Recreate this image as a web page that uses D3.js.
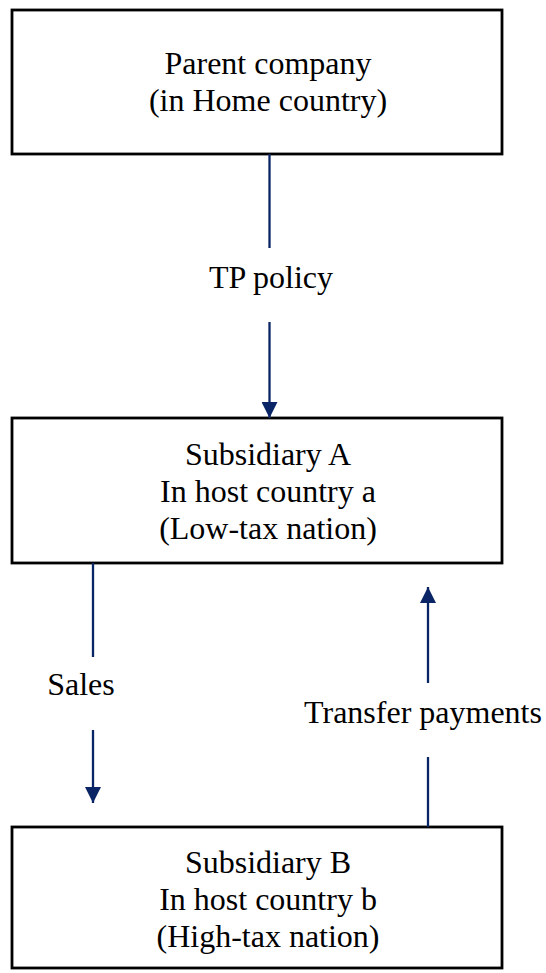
<!DOCTYPE html>
<html><head><meta charset="utf-8">
<script src="https://cdn.jsdelivr.net/npm/d3@7"></script>
<style>html,body{margin:0;padding:0;background:#fff;}svg{display:block;}</style>
</head><body>
<script>
// Node labels (lines per box)
const boxIds = ["parent", "subA", "subB"];
const boxLines = [
  ["Parent company", "(in Home country)"],
  ["Subsidiary A", "In host country a", "(Low-tax nation)"],
  ["Subsidiary B", "In host country b", "(High-tax nation)"]
];
// Flows between boxes
const flowLabels = ["TP policy", "Sales", "Transfer payments"];
const flowFrom = ["parent", "subA", "subB"];
const flowTo = ["subA", "subB", "subA"];

const W = 546, H = 973;
const svg = d3.select("body").append("svg").attr("width", W).attr("height", H);
const navy = "#0a2565";
const font = "'Liberation Serif', 'Times New Roman', serif";

// layout
const boxX = 12, boxW = 490;
const boxTop = {parent: 10, subA: 418, subB: 827};
const boxH = {parent: 144, subA: 145, subB: 141};
const firstBase = {parent: 74, subA: 465, subB: 873};
const lineGap = 37;

svg.append("defs").append("marker")
  .attr("id", "ah").attr("viewBox", "0 0 16 16").attr("refX", 16).attr("refY", 8)
  .attr("markerWidth", 16).attr("markerHeight", 16).attr("markerUnits", "userSpaceOnUse")
  .attr("orient", "auto")
  .append("path").attr("d", "M0,0 L16,8 L0,16 Z").attr("fill", navy);

const boxes = svg.selectAll("g.box").data(boxIds).join("g").attr("class", "box");
boxes.append("rect")
  .attr("x", boxX).attr("y", d => boxTop[d]).attr("width", boxW).attr("height", d => boxH[d])
  .attr("fill", "#fff").attr("stroke", "#000").attr("stroke-width", 2.8);
boxes.each(function(d, i) {
  const lines = boxLines[i];
  d3.select(this).selectAll("text").data(lines).join("text")
    .attr("x", 268).attr("y", (t, j) => firstBase[d] + j * lineGap)
    .attr("text-anchor", "middle").attr("font-family", font).attr("font-size", 32)
    .attr("fill", "#000").text(t => t);
});

// arrow geometry
const flowX = [269.5, 93, 428];
const flowStart = [154, 563, 827];
const flowEnd = [418, 803, 587];
const gapA = [248, 657, 683];   // upper end of label gap
const gapB = [322, 730, 757];   // lower end of label gap
const labelX = [271, 81, 423];
const labelY = [288, 695, 723];

flowLabels.forEach((lab, i) => {
  const g = svg.append("g");
  const dir = flowEnd[i] > flowStart[i] ? 1 : -1;
  let s1a, s1b, s2a, s2b;
  if (dir > 0) { s1a = flowStart[i]; s1b = gapA[i]; s2a = gapB[i]; s2b = flowEnd[i]; }
  else { s1a = flowStart[i]; s1b = gapB[i]; s2a = gapA[i]; s2b = flowEnd[i]; }
  g.append("line").attr("x1", flowX[i]).attr("x2", flowX[i]).attr("y1", s1a).attr("y2", s1b)
    .attr("stroke", navy).attr("stroke-width", 2.3);
  g.append("line").attr("x1", flowX[i]).attr("x2", flowX[i]).attr("y1", s2a).attr("y2", s2b)
    .attr("stroke", navy).attr("stroke-width", 2.3).attr("marker-end", "url(#ah)");
  g.append("text").attr("x", labelX[i]).attr("y", labelY[i]).attr("text-anchor", "middle")
    .attr("font-family", font).attr("font-size", 32).attr("fill", "#000").text(lab);
});
</script>
</body></html>
